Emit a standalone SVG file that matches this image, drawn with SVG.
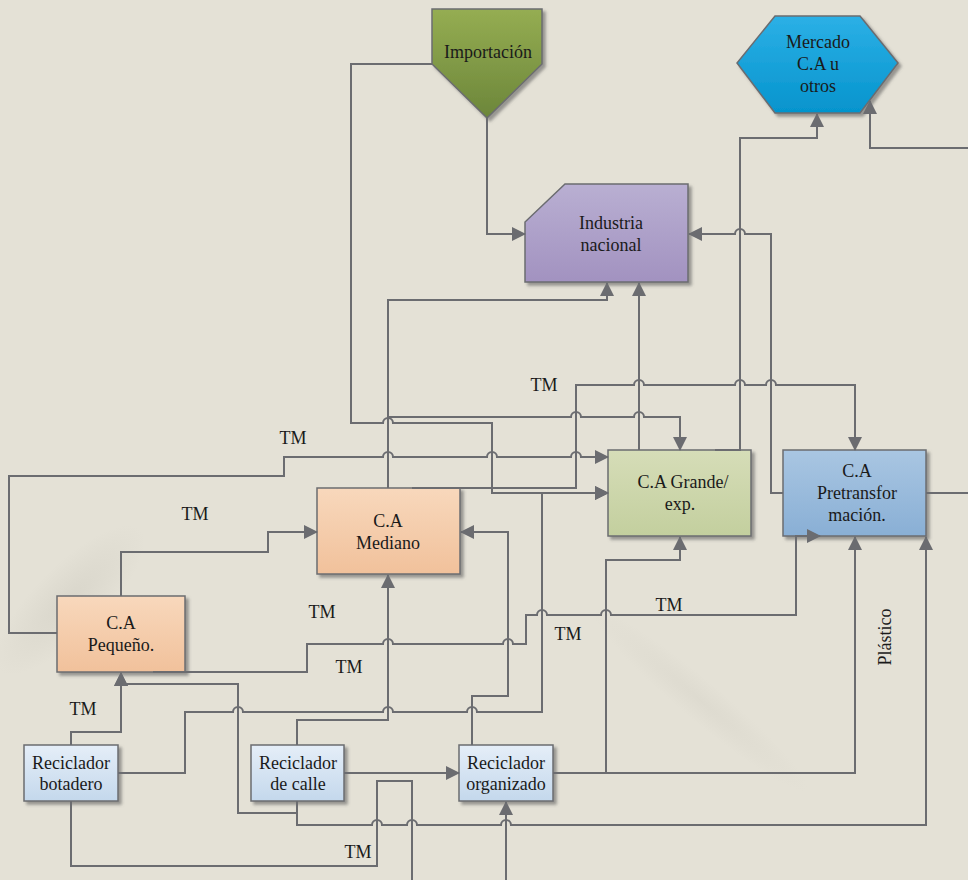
<svg xmlns="http://www.w3.org/2000/svg" width="968" height="880" viewBox="0 0 968 880">
<defs>
<style>
.bg{fill:#e4e1d6}
.box{stroke:#6b6c70;stroke-width:1.5}
.c{fill:none;stroke:#6b6c70;stroke-width:2}
.a{marker-end:url(#ah)}
text{font-family:"Liberation Serif","Times New Roman",serif;font-size:18px;fill:#1a1a1a;text-anchor:middle}
</style>
<marker id="ah" markerUnits="userSpaceOnUse" markerWidth="16" markerHeight="14" refX="13" refY="7" orient="auto"><path d="M0,0 L14,7 L0,14 z" fill="#6b6c70"/></marker>
<filter id="sh" x="-10%" y="-10%" width="130%" height="130%"><feDropShadow dx="3" dy="3" stdDeviation="1.5" flood-color="#555" flood-opacity="0.55"/></filter>
<linearGradient id="gImp" x1="0" y1="0" x2="0" y2="1"><stop offset="0" stop-color="#95ad52"/><stop offset="1" stop-color="#6c863a"/></linearGradient>
<linearGradient id="gMer" x1="0" y1="0" x2="0" y2="1"><stop offset="0" stop-color="#2cb0e6"/><stop offset="1" stop-color="#0594cd"/></linearGradient>
<linearGradient id="gInd" x1="0" y1="0" x2="0" y2="1"><stop offset="0" stop-color="#b9afd2"/><stop offset="1" stop-color="#a292c0"/></linearGradient>
<linearGradient id="gGra" x1="0" y1="0" x2="0" y2="1"><stop offset="0" stop-color="#d6ddb8"/><stop offset="1" stop-color="#c3cf9e"/></linearGradient>
<linearGradient id="gPre" x1="0" y1="0" x2="0" y2="1"><stop offset="0" stop-color="#a9c6e2"/><stop offset="1" stop-color="#89afd5"/></linearGradient>
<linearGradient id="gOr" x1="0" y1="0" x2="0" y2="1"><stop offset="0" stop-color="#f8d8bc"/><stop offset="1" stop-color="#f1c19b"/></linearGradient>
<linearGradient id="gRec" x1="0" y1="0" x2="0" y2="1"><stop offset="0" stop-color="#e5eef8"/><stop offset="1" stop-color="#c4d8ec"/></linearGradient>
<radialGradient id="smudge"><stop offset="0" stop-color="#d2cfc4" stop-opacity="0.6"/><stop offset="1" stop-color="#d2cfc4" stop-opacity="0"/></radialGradient>
</defs>
<rect class="bg" x="0" y="0" width="968" height="880"/>
<ellipse cx="70" cy="600" rx="100" ry="35" transform="rotate(-45 70 600)" fill="url(#smudge)"/>
<ellipse cx="700" cy="700" rx="140" ry="20" transform="rotate(40 700 700)" fill="url(#smudge)" opacity="0.6"/>

<g id="importacion"><polygon class="box" filter="url(#sh)" points="432,9 542,9 542,64 487,118 432,64" fill="url(#gImp)"/><text x="488" y="58">Importación</text></g>
<g id="mercado"><polygon class="box" filter="url(#sh)" points="775,16 860,16 898,63 860,113 775,113 737,63" fill="url(#gMer)"/><text x="818" y="48">Mercado</text><text x="818" y="70">C.A u</text><text x="818" y="92">otros</text></g>
<g id="industria"><polygon class="box" filter="url(#sh)" points="565,184 688,184 688,282 525,282 525,222" fill="url(#gInd)"/><text x="611" y="229">Industria</text><text x="611" y="251">nacional</text></g>
<g id="grande"><rect class="box" filter="url(#sh)" x="608" y="450" width="143" height="86" fill="url(#gGra)"/><text x="683" y="488">C.A Grande/</text><text x="680" y="510">exp.</text></g>
<g id="pretransformacion"><rect class="box" filter="url(#sh)" x="783" y="450" width="143" height="86" fill="url(#gPre)"/><text x="857" y="477">C.A</text><text x="857" y="499">Pretransfor</text><text x="857" y="521">mación.</text></g>
<g id="mediano"><rect class="box" filter="url(#sh)" x="317" y="488" width="143" height="86" fill="url(#gOr)"/><text x="388" y="527">C.A</text><text x="388" y="549">Mediano</text></g>
<g id="pequeno"><rect class="box" filter="url(#sh)" x="57" y="596" width="128" height="76" fill="url(#gOr)"/><text x="121" y="629">C.A</text><text x="121" y="651">Pequeño.</text></g>
<g id="botadero"><rect class="box" filter="url(#sh)" x="24" y="745" width="94" height="56" fill="url(#gRec)"/><text x="71" y="769">Reciclador</text><text x="71" y="790">botadero</text></g>
<g id="calle"><rect class="box" filter="url(#sh)" x="251" y="745" width="93" height="56" fill="url(#gRec)"/><text x="298" y="769">Reciclador</text><text x="298" y="790">de calle</text></g>
<g id="organizado"><rect class="box" filter="url(#sh)" x="459" y="745" width="94" height="56" fill="url(#gRec)"/><text x="506" y="769">Reciclador</text><text x="506" y="790">organizado</text></g>

<g id="connectors">
<path class="c a" d="M487,118 V234 H525"/>
<path class="c a" d="M432,64 H351 V423 H383 a5,5 0 0 1 10,0 H492 V493 H608"/>
<path class="c a" d="M388,488 V300 H607 V283"/>
<path class="c a" d="M388,488 V417 H571 a5,5 0 0 1 10,0 H634 a5,5 0 0 1 10,0 H680 V450"/>
<path class="c a" d="M412,488 H576 V385 H634 a5,5 0 0 1 10,0 H735 a5,5 0 0 1 10,0 H766 a5,5 0 0 1 10,0 H855 V450"/>
<path class="c a" d="M57,633 H9 V476 H284 V457 H383 a5,5 0 0 1 10,0 H487 a5,5 0 0 1 10,0 H571 a5,5 0 0 1 10,0 H608"/>
<path class="c a" d="M121,596 V552 H268 V532 H317"/>
<path class="c a" d="M153,672 H307 V644 H383 a5,5 0 0 1 10,0 H503 a5,5 0 0 1 10,0 H526 V615 H537 a5,5 0 0 1 10,0 H601 a5,5 0 0 1 10,0 H796 V536 H820"/>
<path class="c a" d="M639,450 V283"/>
<path class="c a" d="M715,450 H740 V138 H817 V114"/>
<path class="c a" d="M783,493 H771 V234 H745 a5,5 0 0 0 -10,0 H689"/>
<path class="c" d="M926,493 H968"/>
<path class="c a" d="M968,148 H870 V101"/>
<path class="c a" d="M71,745 V732 H121 V673"/>
<path class="c a" d="M118,773 H185 V712 H233 a5,5 0 0 1 10,0 H383 a5,5 0 0 1 10,0 H467 a5,5 0 0 1 10,0 H542 V493 H608"/>
<path class="c" d="M71,801 V866 H377 V781 H412 V880"/>
<path class="c a" d="M297,801 V813 H238 V684 H121 V673"/>
<path class="c a" d="M297,745 V720 H388 V575"/>
<path class="c a" d="M344,773 H459"/>
<path class="c a" d="M297,801 V825 H372 a5,5 0 0 1 10,0 H407 a5,5 0 0 1 10,0 H501 a5,5 0 0 1 10,0 H926 V537"/>
<path class="c a" d="M472,745 V696 H508 V532 H461"/>
<path class="c a" d="M553,773 H606 V560 H680 V537"/>
<path class="c a" d="M553,773 H855 V537"/>
<path class="c a" d="M506,880 V802"/>
</g>

<g id="labels">
<text x="544" y="391">TM</text>
<text x="293" y="444">TM</text>
<text x="195" y="520">TM</text>
<text x="322" y="618">TM</text>
<text x="349" y="673">TM</text>
<text x="568" y="640">TM</text>
<text x="669" y="611">TM</text>
<text x="83" y="715">TM</text>
<text x="358" y="858">TM</text>
<text x="891" y="637" transform="rotate(-90 891 637)">Plástico</text>
</g>
</svg>
